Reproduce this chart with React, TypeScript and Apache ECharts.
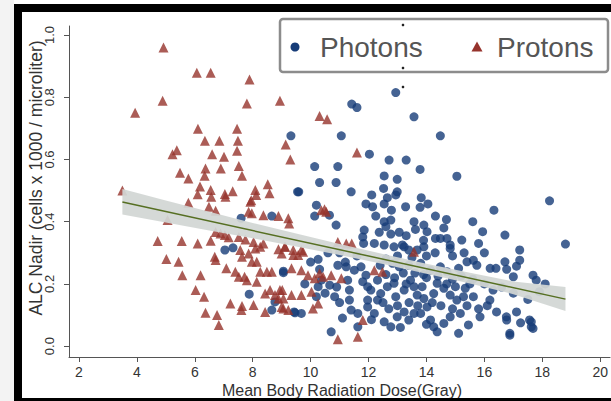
import React, { useEffect, useRef } from "react";
import * as echarts from "echarts";

// ---- data ----
const protons: [number, number][] = [
  [4.92,0.960],[6.07,0.879],[6.55,0.879],[7.89,0.857],[4.89,0.789],[3.94,0.750],[7.80,0.780],[8.94,0.789],
  [6.11,0.699],[7.46,0.699],[6.35,0.660],[6.85,0.660],[7.49,0.660],[9.14,0.648],
  [5.38,0.630],[5.23,0.617],[6.60,0.617],[7.01,0.609],[7.46,0.628],[9.30,0.600],
  [5.49,0.557],[5.78,0.539],[6.37,0.571],[6.34,0.548],[6.90,0.571],[7.52,0.579],[7.63,0.548],
  [8.52,0.520],[8.58,0.491],[6.18,0.513],[6.10,0.488],[6.55,0.502],[6.57,0.480],[7.04,0.489],[7.06,0.480],
  [7.31,0.498],[8.09,0.502],[8.12,0.486],[7.95,0.469],[3.50,0.500],[5.78,0.461],[6.49,0.448],
  [6.72,0.435],[7.92,0.464],[7.86,0.432],[7.97,0.427],[8.37,0.421],[8.89,0.418],[9.23,0.411],[9.26,0.394],[5.06,0.405],
  [6.72,0.367],[6.89,0.362],[7.04,0.357],[4.72,0.338],[5.55,0.338],[6.10,0.330],[6.55,0.339],[7.17,0.350],[7.52,0.351],[7.75,0.343],
  [8.03,0.335],[8.26,0.319],[8.37,0.330],[8.09,0.314],[8.89,0.311],[9.12,0.319],[9.40,0.293],
  [7.57,0.309],[7.63,0.287],[7.86,0.298],[7.97,0.271],[8.14,0.271],[6.69,0.287],[6.72,0.277],[5.02,0.280],[5.44,0.271],
  [5.57,0.228],[6.20,0.228],[7.09,0.250],
  [7.40,0.239],[7.52,0.223],[7.72,0.223],[7.80,0.212],[8.26,0.239],[8.49,0.239],[8.66,0.239],[9.34,0.250],[8.14,0.207],
  [6.03,0.180],[6.32,0.159],[8.43,0.169],[8.60,0.180],[8.77,0.164],[8.94,0.180],[8.89,0.153],
  [7.23,0.137],[7.63,0.129],[7.61,0.116],[8.03,0.132],[8.43,0.110],[9.06,0.121],[6.37,0.107],[6.77,0.100],[6.83,0.068],
  [10.54,0.432],[10.37,0.437],[10.94,0.335],[11.23,0.330],[11.42,0.330],[13.57,0.303],
  [9.11,0.319],[9.40,0.309],[9.68,0.309],[9.57,0.293],[9.74,0.303],[9.00,0.298],
  [9.68,0.244],[9.91,0.228],[10.14,0.218],[10.43,0.223],[10.71,0.228],[11.06,0.218],[10.31,0.234],
  [12.20,0.244],[12.48,0.239],
  [9.02,0.180],[9.34,0.164],[9.06,0.153],[10.03,0.175],[9.68,0.164],
  [10.26,0.137],[10.08,0.121],[9.00,0.126],[9.23,0.116],
  [11.80,0.084],[11.63,0.030],[10.94,0.022],
  [11.60,0.622],[10.31,0.740],[10.57,0.729],[10.48,0.440]
];

const photons: [number, number][] = [
  [12.94,0.815],[11.42,0.778],[11.60,0.767],[13.57,0.737],[9.32,0.676],[11.06,0.676],[14.48,0.676],[12.03,0.617],
  [12.71,0.598],[13.30,0.598],[13.78,0.568],[15.05,0.546],[10.14,0.577],[10.94,0.577],[10.31,0.526],[10.88,0.526],
  [12.54,0.547],[12.99,0.536],[9.59,0.496],[11.40,0.496],[12.52,0.507],[12.99,0.496],[12.94,0.486],[12.11,0.486],
  [13.82,0.477],[14.05,0.457],[12.65,0.477],[9.55,0.496],
  [10.20,0.453],[10.14,0.418],[10.65,0.421],[10.88,0.389],[11.91,0.457],[12.14,0.448],[12.54,0.457],[12.79,0.437],
  [13.28,0.448],[13.78,0.446],[12.25,0.418],[12.54,0.400],[12.77,0.405],[12.60,0.384],[14.31,0.418],[14.69,0.407],
  [13.57,0.400],[13.91,0.389],[13.62,0.375],[11.85,0.373],[11.80,0.351],[11.83,0.330],[12.37,0.366],[12.77,0.360],
  [13.06,0.366],[14.02,0.368],[14.48,0.346],[14.82,0.325],[15.22,0.341],[12.20,0.330],[12.54,0.325],[13.23,0.319],
  [18.25,0.467],[16.33,0.437],[14.31,0.346],[14.71,0.346],[14.82,0.314],
  [15.94,0.368],[16.71,0.357],[17.22,0.309],[18.80,0.328],
  [12.88,0.319],[13.17,0.325],[13.39,0.309],[13.68,0.309],[13.91,0.319],
  [10.26,0.279],[10.31,0.247],[10.94,0.260],[11.23,0.255],[11.51,0.244],[11.74,0.255],[11.91,0.228],[11.80,0.207],[11.97,0.191],
  [12.83,0.266],[13.06,0.255],[13.39,0.260],[13.80,0.266],[14.14,0.244],[14.48,0.255],[14.71,0.239],[15.11,0.250],
  [15.40,0.271],[15.62,0.276],[15.74,0.260],
  [16.71,0.271],[16.77,0.247],[17.11,0.257],[17.22,0.276],[17.68,0.228],[17.79,0.212],[17.00,0.223],[9.06,0.241],
  [10.37,0.212],[10.66,0.196],[10.83,0.159],[11.28,0.212],[11.34,0.180],[11.34,0.148],[11.40,0.116],
  [12.08,0.180],[12.31,0.212],[12.42,0.169],[12.65,0.191],[12.88,0.202],[12.94,0.159],[13.23,0.180],[13.45,0.212],
  [13.57,0.191],[13.68,0.164],[13.85,0.191],[13.91,0.153],[14.02,0.126],[14.25,0.169],[14.37,0.202],[14.60,0.186],
  [14.82,0.164],[15.00,0.191],[15.05,0.148],[15.28,0.159],[15.34,0.186],[15.62,0.159],
  [16.19,0.148],[16.42,0.110],[16.76,0.094],[17.11,0.110],[17.56,0.084],[17.68,0.057],[16.88,0.041],[17.62,0.062],
  [15.85,0.094],[15.17,0.105],[14.82,0.094],[15.45,0.068],
  [13.80,0.105],[14.14,0.084],[14.25,0.062],[14.37,0.046],[14.60,0.073],[15.11,0.041],
  [12.54,0.078],[12.99,0.094],[13.23,0.110],[13.39,0.084],[13.57,0.105],[12.77,0.062],
  [11.63,0.105],[11.63,0.062],[11.97,0.126],[12.20,0.105],[12.31,0.148],[11.97,0.148],
  [10.71,0.046],[9.43,0.110],[9.68,0.105],[10.26,0.191],[10.20,0.159],
  [16.77,0.084],[17.25,0.075],[17.62,0.078],[16.88,0.035],
  [8.66,0.418],[7.60,0.411],[7.04,0.309],[7.32,0.316],[9.06,0.236],[7.88,0.167],[8.77,0.142],[8.66,0.116],[9.46,0.107],
  [12.60,0.280],[13.00,0.290],[13.50,0.285],[14.00,0.290],[14.30,0.300],[14.90,0.290],[15.30,0.300],[12.40,0.260],
  [13.20,0.235],[13.60,0.235],[14.00,0.220],[14.40,0.225],[14.90,0.215],[15.20,0.225],[15.60,0.215],[12.60,0.230],
  [12.90,0.220],[13.30,0.200],[13.90,0.230],[14.70,0.200],[15.50,0.200],[16.00,0.200],[16.30,0.180],[16.60,0.190],
  [16.10,0.130],[15.80,0.120],[14.50,0.130],[14.20,0.140],[13.40,0.140],[13.00,0.130],[12.70,0.120],[12.10,0.085],
  [13.10,0.060],[14.00,0.070],[14.90,0.120],[15.40,0.130],[11.20,0.270],[11.60,0.290],[11.00,0.300],[10.60,0.300],
  [10.00,0.270],[9.80,0.200],[10.50,0.170],[11.00,0.140],[11.10,0.090],[10.90,0.190],[12.50,0.140],[13.70,0.130],
  [16.40,0.250],[16.00,0.300],[15.80,0.330],[13.90,0.340],[13.30,0.355],[14.60,0.380],[15.60,0.400],[16.20,0.250],
  [17.50,0.150],[17.00,0.170],[18.10,0.200],[17.90,0.175]
];

const xTicks = [2, 4, 6, 8, 10, 12, 14, 16, 18, 20];
const yTicks = [0, 0.2, 0.4, 0.6, 0.8, 1.0];

const bandX = [3.5, 5, 6.5, 8, 9.5, 11, 12.5, 14, 15.5, 17, 18.8];
const bandLower = [0.423, 0.397, 0.372, 0.347, 0.320, 0.293, 0.264, 0.233, 0.201, 0.167, 0.113];
const bandUpper = [0.505, 0.468, 0.432, 0.396, 0.362, 0.328, 0.296, 0.265, 0.236, 0.208, 0.190];
const fitLine: [number, number][] = [[3.5, 0.463], [18.8, 0.151]];

const FONT = '"Liberation Sans", Arial, Helvetica, sans-serif';
const NAVY = "#173c78";
const MAROON = "#96332c";

export default function App() {
  const ref = useRef<HTMLDivElement>(null);
  useEffect(() => {
    if (!ref.current) return;
    const chart = echarts.init(ref.current, undefined, { renderer: "svg" });
    const axisColor = "#555";
    chart.setOption({
      animation: false,
      backgroundColor: "#ffffff",
      grid: { left: 69, top: 26, right: -3, bottom: 44 },
      xAxis: {
        type: "value",
        min: 1.657,
        max: 20.34,
        splitLine: { show: false },
        axisLine: { show: true, onZero: false, lineStyle: { color: axisColor, width: 1 } },
        axisTick: { show: true, customValues: xTicks, length: 5, lineStyle: { color: axisColor } },
        axisLabel: {
          customValues: xTicks,
          margin: 8,
          fontSize: 14,
          color: "#333",
          fontFamily: FONT,
        },
      },
      yAxis: {
        type: "value",
        min: -0.035,
        max: 1.029,
        splitLine: { show: false },
        axisLine: { show: true, onZero: false, lineStyle: { color: axisColor, width: 1 } },
        axisTick: { show: true, customValues: yTicks, length: 5, lineStyle: { color: axisColor } },
        axisLabel: {
          customValues: yTicks,
          rotate: 90,
          margin: 13,
          fontSize: 13,
          color: "#333",
          fontFamily: FONT,
          formatter: (v: number) => v.toFixed(1),
        },
      },
      series: [
        {
          name: "Photons",
          type: "scatter",
          data: photons,
          symbol: "circle",
          symbolSize: 9,
          itemStyle: { color: NAVY },
          z: 2,
        },
        {
          name: "Protons",
          type: "scatter",
          data: protons,
          symbol: "triangle",
          symbolSize: 10,
          itemStyle: { color: MAROON },
          z: 3,
        },
        {
          type: "custom",
          name: "CI",
          data: [[bandX[0], bandLower[0]]],
          z: 4,
          silent: true,
          renderItem: (_params: any, api: any) => {
            const pts: number[][] = [];
            for (let i = 0; i < bandX.length; i++) pts.push(api.coord([bandX[i], bandUpper[i]]));
            for (let i = bandX.length - 1; i >= 0; i--) pts.push(api.coord([bandX[i], bandLower[i]]));
            return {
              type: "polygon",
              shape: { points: pts },
              style: { fill: "#d2d6d4", opacity: 0.93 },
            };
          },
        },
        {
          type: "line",
          name: "Fit",
          data: fitLine,
          symbol: "none",
          z: 5,
          lineStyle: { color: "#566f22", width: 1.5 },
        },
      ],
      graphic: [
        // frame
        { type: "rect", shape: { x: 0, y: 0, width: 14, height: 401 }, style: { fill: "#f3f3f3" }, z: 100 },
        { type: "rect", shape: { x: 14, y: 4, width: 8, height: 397 }, style: { fill: "#000" }, z: 100 },
        { type: "rect", shape: { x: 14, y: 4, width: 597, height: 8 }, style: { fill: "#000" }, z: 100 },
        { type: "rect", shape: { x: 14, y: 398, width: 597, height: 3 }, style: { fill: "#000" }, z: 100 },
        // axis titles
        {
          type: "text",
          x: 342,
          y: 390,
          style: {
            text: "Mean Body Radiation Dose(Gray)",
            font: `16px ${FONT}`,
            fill: "#333",
            align: "center",
            verticalAlign: "middle",
            textAlign: "center",
            textVerticalAlign: "middle",
          },
          z: 50,
        },
        {
          type: "text",
          x: 36,
          y: 178,
          rotation: Math.PI / 2,
          style: {
            text: "ALC Nadir (cells x 1000 / microliter)",
            font: `17.5px ${FONT}`,
            fill: "#333",
            align: "center",
            verticalAlign: "middle",
            textAlign: "center",
            textVerticalAlign: "middle",
          },
          z: 50,
        },
        // legend
        {
          type: "rect",
          shape: { x: 280, y: 19, width: 328, height: 53, r: 3 },
          style: { fill: "#fff", stroke: "#8c8c8c", lineWidth: 2.5 },
          z: 60,
        },
        { type: "circle", shape: { cx: 295, cy: 47, r: 4.5 }, style: { fill: NAVY }, z: 61 },
        {
          type: "text",
          x: 320,
          y: 47,
          style: {
            text: "Photons",
            font: `28px ${FONT}`,
            fill: "#555",
            align: "left",
            verticalAlign: "middle",
            textAlign: "left",
            textVerticalAlign: "middle",
          },
          z: 61,
        },
        {
          type: "polygon",
          shape: { points: [[477, 41.5], [482.5, 51.5], [471.5, 51.5]] },
          style: { fill: MAROON },
          z: 61,
        },
        {
          type: "text",
          x: 497,
          y: 47,
          style: {
            text: "Protons",
            font: `28px ${FONT}`,
            fill: "#555",
            align: "left",
            verticalAlign: "middle",
            textAlign: "left",
            textVerticalAlign: "middle",
          },
          z: 61,
        },
        // small artefact dots
        { type: "circle", shape: { cx: 403, cy: 25, r: 1.3 }, style: { fill: "#222" }, z: 62 },
        { type: "circle", shape: { cx: 403, cy: 68, r: 1.3 }, style: { fill: "#222" }, z: 62 },
        { type: "circle", shape: { cx: 403, cy: 87, r: 1.3 }, style: { fill: "#222" }, z: 62 },
      ],
    });
    return () => chart.dispose();
  }, []);
  return (
    <div
      ref={ref}
      style={{ position: "fixed", left: 0, top: 0, width: 611, height: 401, overflow: "hidden" }}
    />
  );
}
